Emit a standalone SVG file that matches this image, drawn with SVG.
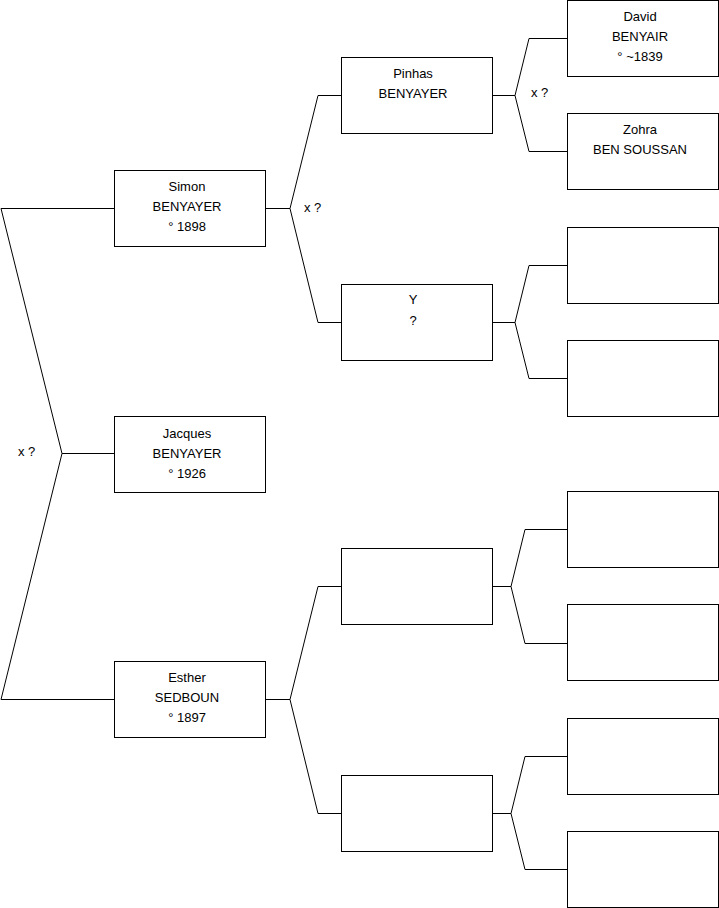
<svg xmlns="http://www.w3.org/2000/svg" width="719" height="908" viewBox="0 0 719 908">
<style>
.box{fill:#fff;stroke:#000;stroke-width:1}
.c{fill:none;stroke:#000;stroke-width:1}
text{font-family:"Liberation Sans",Arial,sans-serif;font-size:13px;fill:#000}
.t{text-anchor:middle}
</style>
<rect width="719" height="908" fill="#fff"/>
<g id="connectors" class="c">
<polyline points="114,208.5 1,208.5 62,453.5 1,699.5 114,699.5"/>
<line x1="62" y1="453.5" x2="114" y2="453.5"/>
<polyline points="341,95.5 318,95.5 290,208.5 318,322.5 341,322.5"/>
<line x1="265" y1="208.5" x2="290" y2="208.5"/>
<polyline points="341,586.5 318,586.5 290,699.5 318,813.5 341,813.5"/>
<line x1="265" y1="699.5" x2="290" y2="699.5"/>
<polyline points="567,38.5 529,38.5 515,95.5 529,151.5 567,151.5"/>
<line x1="492" y1="95.5" x2="515" y2="95.5"/>
<polyline points="567,265.5 529,265.5 515,322.5 529,378.5 567,378.5"/>
<line x1="492" y1="322.5" x2="515" y2="322.5"/>
<polyline points="567,529.5 525,529.5 511,586.5 525,643.5 567,643.5"/>
<line x1="492" y1="586.5" x2="511" y2="586.5"/>
<polyline points="567,756.5 525,756.5 511,813.5 525,869.5 567,869.5"/>
<line x1="492" y1="813.5" x2="511" y2="813.5"/>
</g>
<g id="labels">
<text x="18" y="456">x ?</text>
<text x="304" y="212">x ?</text>
<text x="531" y="97">x ?</text>
</g>
<g id="simon"><rect class="box" x="114.5" y="170.5" width="151" height="76"/>
<text class="t" x="187" y="191">Simon</text><text class="t" x="187" y="211">BENYAYER</text><text class="t" x="187" y="231">° 1898</text></g>
<g id="jacques"><rect class="box" x="114.5" y="416.5" width="151" height="76"/>
<text class="t" x="187" y="438">Jacques</text><text class="t" x="187" y="458">BENYAYER</text><text class="t" x="187" y="478">° 1926</text></g>
<g id="esther"><rect class="box" x="114.5" y="661.5" width="151" height="76"/>
<text class="t" x="187" y="682">Esther</text><text class="t" x="187" y="702">SEDBOUN</text><text class="t" x="187" y="722">° 1897</text></g>
<g id="pinhas"><rect class="box" x="341.5" y="57.5" width="151" height="76"/>
<text class="t" x="413" y="78">Pinhas</text><text class="t" x="413" y="98">BENYAYER</text></g>
<g id="y"><rect class="box" x="341.5" y="284.5" width="151" height="76"/>
<text class="t" x="413" y="304">Y</text><text class="t" x="413" y="325">?</text></g>
<g id="e1"><rect class="box" x="341.5" y="548.5" width="151" height="76"/></g>
<g id="e2"><rect class="box" x="341.5" y="775.5" width="151" height="76"/></g>
<g id="david"><rect class="box" x="567.5" y="0.5" width="151" height="76"/>
<text class="t" x="640" y="21">David</text><text class="t" x="640" y="41">BENYAIR</text><text class="t" x="640" y="61">° ~1839</text></g>
<g id="zohra"><rect class="box" x="567.5" y="113.5" width="151" height="76"/>
<text class="t" x="640" y="134">Zohra</text><text class="t" x="640" y="154">BEN SOUSSAN</text></g>
<g id="g3a"><rect class="box" x="567.5" y="227.5" width="151" height="76"/></g>
<g id="g3b"><rect class="box" x="567.5" y="340.5" width="151" height="76"/></g>
<g id="g3c"><rect class="box" x="567.5" y="491.5" width="151" height="76"/></g>
<g id="g3d"><rect class="box" x="567.5" y="604.5" width="151" height="76"/></g>
<g id="g3e"><rect class="box" x="567.5" y="718.5" width="151" height="76"/></g>
<g id="g3f"><rect class="box" x="567.5" y="831.5" width="151" height="76"/></g>
</svg>
